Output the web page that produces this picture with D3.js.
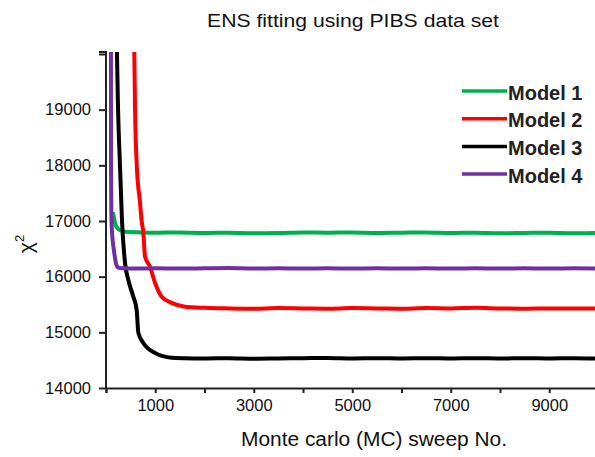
<!DOCTYPE html>
<html>
<head>
<meta charset="utf-8">
<script src="https://cdn.jsdelivr.net/npm/d3@7.9.0/dist/d3.min.js"></script>
<style>
  body { margin: 0; background: #fff; }
  svg { display: block; font-family: "Liberation Sans", Arial, sans-serif; }
</style>
</head>
<body>
<div id="chart"></div>
<script>
// series: [MC sweep, chi^2]
const model1 = [
  [140, 17160], [170, 17020], [210, 16900], [284, 16835], [400, 16805],
  [700, 16795], [1000, 16790], [1500, 16795], [2000, 16785], [2500, 16790],
  [3000, 16780], [3500, 16785], [4000, 16795], [4500, 16790], [5000, 16795],
  [5500, 16785], [6000, 16790], [6500, 16795], [7000, 16785], [7500, 16790],
  [8000, 16780], [8500, 16785], [9000, 16790], [9500, 16780], [10000, 16785],
];
const model2 = [
  [565, 20600], [575, 20000], [590, 19000], [625, 18000], [690, 17340],
  [724, 17000], [758, 16790], [792, 16360], [893, 16180], [995, 15890],
  [1130, 15640], [1333, 15530], [1604, 15460], [2010, 15440], [2500, 15430],
  [3000, 15425], [3500, 15435], [4000, 15430], [4500, 15425], [5000, 15435],
  [5500, 15430], [6000, 15425], [6500, 15435], [7000, 15430], [7500, 15440],
  [8000, 15430], [8500, 15425], [9000, 15430], [9500, 15430], [10000, 15425],
];
const model3 = [
  [215, 20600], [223, 20000], [245, 19000], [284, 18000], [325, 17000],
  [386, 16250], [453, 15940], [555, 15640], [623, 15400], [657, 14990],
  [758, 14810], [995, 14630], [1333, 14545], [1600, 14535], [2000, 14530],
  [2500, 14535], [3000, 14525], [3500, 14530], [4000, 14535], [4500, 14540],
  [5000, 14530], [5500, 14535], [6000, 14530], [6500, 14535], [7000, 14530],
  [7500, 14535], [8000, 14530], [8500, 14535], [9000, 14530], [9500, 14535],
  [10000, 14530],
];
const model4 = [
  [100, 20600], [102, 18000], [108, 17200], [122, 16800], [160, 16480],
  [200, 16250], [240, 16170], [320, 16150], [600, 16145], [1000, 16150],
  [1500, 16145], [2000, 16150], [2500, 16155], [3000, 16145], [3500, 16150],
  [4000, 16145], [4500, 16150], [5000, 16145], [5500, 16150], [6000, 16145],
  [6500, 16150], [7000, 16145], [7500, 16150], [8000, 16145], [8500, 16150],
  [9000, 16145], [9500, 16150], [10000, 16145],
];

const seriesNames = ["Model 1", "Model 2", "Model 3", "Model 4"];
const seriesColors = ["#00b050", "#ff0000", "#000000", "#7030a0"];
const seriesData = [model1, model2, model3, model4];

const xTicks = [0, 1000, 2000, 3000, 4000, 5000, 6000, 7000, 8000, 9000, 10000];
const xLabels = [1000, 3000, 5000, 7000, 9000];
const yTicks = [14000, 15000, 16000, 17000, 18000, 19000, 20000];
const yLabels = [14000, 15000, 16000, 17000, 18000, 19000];

const width = 595;
const height = 457;

const svg = d3
  .select("#chart")
  .append("svg")
  .attr("width", width)
  .attr("height", height);

const xScale = d3.scaleLinear().domain([0, 10000]).range([106, 598.5]);
const yScale = d3.scaleLinear().domain([14000, 20000]).range([388, 54]);

// title
svg
  .append("text")
  .attr("x", 207)
  .attr("y", 27)
  .attr("font-size", 19)
  .attr("textLength", 292)
  .attr("lengthAdjust", "spacingAndGlyphs")
  .attr("fill", "#111")
  .text("ENS fitting using PIBS data set");

// clip the lines to the plot area
svg
  .append("clipPath")
  .attr("id", "plot-clip")
  .append("rect")
  .attr("x", 106)
  .attr("y", 52)
  .attr("width", width - 106)
  .attr("height", 336);

const line = d3
  .line()
  .x((d) => xScale(d[0]))
  .y((d) => yScale(d[1]))
  .curve(d3.curveMonotoneX);

svg
  .append("g")
  .attr("clip-path", "url(#plot-clip)")
  .selectAll("path")
  .data(seriesData)
  .join("path")
  .attr("d", line)
  .attr("fill", "none")
  .attr("stroke", (d, i) => seriesColors[i])
  .attr("stroke-width", 4)
  .attr("stroke-linejoin", "round");

// axes
const xAxis = d3
  .axisBottom(xScale)
  .tickValues(xTicks)
  .tickSize(5)
  .tickPadding(6)
  .tickFormat((d) => (xLabels.includes(d) ? d : ""));

const gx = svg
  .append("g")
  .attr("transform", `translate(0, ${yScale(14000)})`)
  .call(xAxis);

const yAxis = d3
  .axisLeft(yScale)
  .tickValues(yTicks)
  .tickSize(7)
  .tickPadding(8)
  .tickFormat((d) => (yLabels.includes(d) ? d : ""));

const gy = svg
  .append("g")
  .attr("transform", `translate(${xScale(0)}, 0)`)
  .call(yAxis);

[gx, gy].forEach((g) => {
  g.select(".domain").attr("stroke", "#222").attr("stroke-width", 2);
  g.selectAll(".tick line").attr("stroke", "#222").attr("stroke-width", 2);
  g.selectAll(".tick text")
    .attr("font-size", 16.5)
    .attr("font-family", "Liberation Sans, Arial, sans-serif")
    .attr("fill", "#111");
});
gy.select(".domain").attr("d", `M-7,52H0V${yScale(14000)}`);

// axis titles
svg
  .append("text")
  .attr("x", 241)
  .attr("y", 446)
  .attr("font-size", 20)
  .attr("textLength", 266)
  .attr("lengthAdjust", "spacingAndGlyphs")
  .attr("fill", "#111")
  .text("Monte carlo (MC) sweep No.");

const yTitle = svg
  .append("text")
  .attr("transform", "translate(33, 244) rotate(-90)")
  .attr("text-anchor", "middle")
  .attr("font-size", 21)
  .attr("fill", "#111");
yTitle.append("tspan").text("χ");
yTitle.append("tspan").attr("font-size", 13).attr("dy", -9).text("2");

// legend
const legend = svg
  .append("g")
  .selectAll("g")
  .data(seriesNames)
  .join("g")
  .attr("transform", (d, i) => `translate(0, ${91 + i * 27.7})`);

legend
  .append("line")
  .attr("x1", 462)
  .attr("x2", 507)
  .attr("stroke", (d, i) => seriesColors[i])
  .attr("stroke-width", 3.5);

legend
  .append("text")
  .attr("x", 508)
  .attr("y", 8.5)
  .attr("font-size", 20)
  .attr("font-weight", "bold")
  .attr("fill", "#222")
  .text((d) => d);
</script>
</body>
</html>
